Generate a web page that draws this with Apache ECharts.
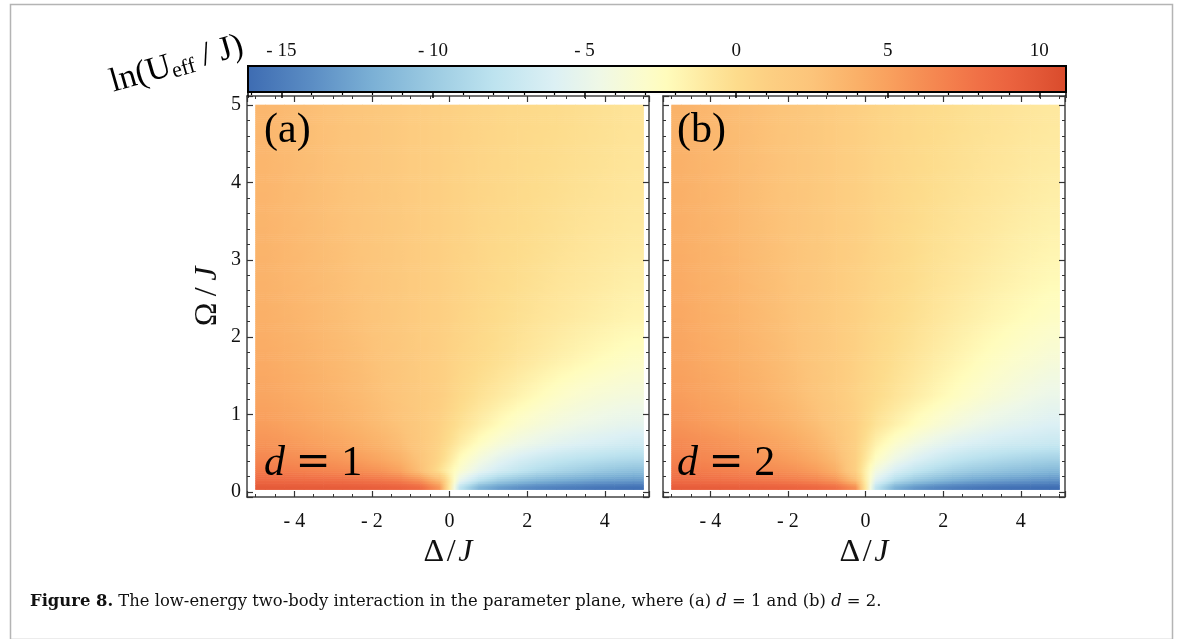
<!DOCTYPE html>
<html>
<head>
<meta charset="utf-8">
<script src="https://cdn.jsdelivr.net/npm/echarts@6/dist/echarts.min.js"></script>
<style>
  html, body { margin: 0; padding: 0; background: #ffffff; }
  #chart { width: 1182px; height: 639px; }
</style>
</head>
<body>
<div id="chart"></div>
<script>
// Sample positions of the (Δ/J, Ω/J) grid (cell centres) and the plotted extent
const deltaSamples = [-4.75, -4.25, -3.75, -3.25, -2.75, -2.25, -1.75, -1.25, -0.75, -0.25, 0.25, 0.75, 1.25, 1.75, 2.25, 2.75, 3.25, 3.75, 4.25, 4.75];
const omegaSamples = [0.065, 0.15, 0.275, 0.425, 0.625, 0.875, 1.25, 1.75, 2.25, 2.75, 3.25, 3.75, 4.25, 4.75];
const deltaExtent = [-5, 5];
const omegaExtent = [0.03, 5];

// ln(U_eff / J), rows from small Ω up to Ω = 5, columns from Δ = -5 to 5 — panel (a), d = 1
const lnUeffD1 = [
  [9.7, 9.65, 9.6, 9.55, 9.5, 9.4, 9.25, 9.0, 8.4, 5.5, -7.5, -11.5, -13.0, -13.8, -14.4, -14.8, -15.1, -15.4, -15.6, -15.8],
  [8.6, 8.5, 8.4, 8.3, 8.2, 8.0, 7.7, 7.2, 6.0, 3.2, -5.0, -8.0, -9.8, -10.8, -11.6, -12.1, -12.5, -12.9, -13.1, -13.3],
  [7.4, 7.2, 6.95, 6.7, 6.45, 6.15, 5.7, 4.8, 2.8, -0.3, -3.2, -5.2, -6.6, -7.6, -8.5, -9.1, -9.6, -10.1, -10.5, -10.8],
  [6.6, 6.35, 6.1, 5.8, 5.5, 5.15, 4.6, 3.8, 2.4, 0.4, -2.3, -4.0, -5.3, -6.3, -7.0, -7.6, -8.0, -8.3, -8.6, -8.8],
  [5.8, 5.55, 5.25, 4.95, 4.6, 4.2, 3.7, 3.0, 2.0, 0.7, -1.1, -2.5, -3.6, -4.4, -5.0, -5.5, -5.9, -6.2, -6.5, -6.8],
  [5.2, 4.95, 4.65, 4.3, 3.95, 3.55, 3.05, 2.5, 1.8, 0.9, -0.3, -1.3, -2.2, -3.0, -3.6, -4.1, -4.5, -4.8, -5.1, -5.3],
  [4.7, 4.45, 4.15, 3.85, 3.5, 3.15, 2.7, 2.25, 1.75, 1.2, 0.3, -0.4, -1.0, -1.6, -2.2, -2.75, -3.2, -3.55, -3.8, -4.0],
  [4.3, 4.05, 3.8, 3.5, 3.2, 2.85, 2.45, 2.05, 1.6, 1.1, 0.6, 0.2, -0.2, -0.6, -1.0, -1.4, -1.75, -2.1, -2.4, -2.7],
  [4.0, 3.75, 3.5, 3.2, 2.9, 2.6, 2.25, 1.9, 1.5, 1.1, 0.7, 0.35, 0.0, -0.3, -0.6, -0.85, -1.1, -1.35, -1.6, -1.8],
  [3.8, 3.55, 3.3, 3.05, 2.8, 2.5, 2.2, 1.85, 1.5, 1.1, 0.75, 0.45, 0.15, -0.1, -0.35, -0.6, -0.8, -1.0, -1.2, -1.4],
  [3.7, 3.45, 3.2, 2.95, 2.7, 2.4, 2.1, 1.8, 1.45, 1.1, 0.8, 0.5, 0.25, 0.05, -0.15, -0.35, -0.55, -0.75, -0.9, -1.05],
  [3.6, 3.35, 3.1, 2.85, 2.6, 2.35, 2.05, 1.75, 1.4, 1.1, 0.8, 0.55, 0.35, 0.15, -0.05, -0.2, -0.4, -0.55, -0.7, -0.85],
  [3.55, 3.3, 3.05, 2.8, 2.55, 2.3, 2.0, 1.7, 1.4, 1.1, 0.8, 0.6, 0.4, 0.2, 0.05, -0.1, -0.25, -0.4, -0.55, -0.7],
  [3.5, 3.25, 3.0, 2.75, 2.5, 2.25, 2.0, 1.7, 1.4, 1.1, 0.85, 0.65, 0.45, 0.3, 0.15, 0.0, -0.15, -0.3, -0.45, -0.6]
];

// Same grid — panel (b), d = 2
const lnUeffD2 = [
  [9.5, 9.45, 9.4, 9.3, 9.2, 9.1, 8.9, 8.6, 8.0, 6.0, -7.5, -11.8, -13.4, -14.3, -14.9, -15.3, -15.6, -15.8, -15.9, -16.0],
  [8.3, 8.2, 8.05, 7.9, 7.7, 7.5, 7.2, 6.7, 5.8, 3.0, -5.5, -8.6, -10.2, -11.2, -12.0, -12.6, -13.0, -13.3, -13.6, -13.8],
  [7.5, 7.3, 7.05, 6.8, 6.5, 6.2, 5.8, 5.2, 4.0, 1.0, -4.0, -6.2, -7.6, -8.6, -9.4, -10.0, -10.4, -10.8, -11.1, -11.4],
  [6.9, 6.65, 6.4, 6.1, 5.8, 5.45, 5.0, 4.3, 3.2, 1.0, -2.6, -4.5, -5.8, -6.8, -7.6, -8.2, -8.6, -9.0, -9.3, -9.5],
  [6.4, 6.15, 5.85, 5.55, 5.2, 4.8, 4.3, 3.6, 2.6, 1.0, -1.5, -3.0, -4.1, -5.0, -5.7, -6.2, -6.6, -6.9, -7.1, -7.3],
  [5.7, 5.4, 5.1, 4.8, 4.45, 4.05, 3.55, 2.9, 2.1, 1.0, -0.5, -1.5, -2.4, -3.2, -3.9, -4.5, -5.0, -5.4, -5.7, -6.0],
  [5.2, 4.9, 4.6, 4.25, 3.9, 3.45, 2.95, 2.35, 1.65, 0.85, 0.1, -0.55, -1.2, -1.8, -2.4, -2.95, -3.5, -3.95, -4.4, -4.8],
  [4.75, 4.45, 4.15, 3.85, 3.5, 3.1, 2.65, 2.15, 1.6, 0.95, 0.35, -0.15, -0.65, -1.15, -1.6, -2.05, -2.5, -2.9, -3.25, -3.6],
  [4.5, 4.2, 3.9, 3.6, 3.25, 2.9, 2.5, 2.05, 1.55, 1.0, 0.5, 0.1, -0.3, -0.7, -1.1, -1.45, -1.8, -2.1, -2.4, -2.7],
  [4.3, 4.0, 3.75, 3.45, 3.1, 2.8, 2.4, 2.0, 1.55, 1.05, 0.6, 0.25, -0.1, -0.45, -0.75, -1.05, -1.35, -1.6, -1.85, -2.1],
  [4.1, 3.85, 3.6, 3.3, 3.0, 2.7, 2.35, 1.95, 1.55, 1.1, 0.7, 0.35, 0.0, -0.3, -0.55, -0.8, -1.05, -1.3, -1.5, -1.7],
  [4.0, 3.75, 3.5, 3.2, 2.9, 2.6, 2.3, 1.9, 1.5, 1.1, 0.7, 0.4, 0.1, -0.15, -0.4, -0.6, -0.8, -1.0, -1.2, -1.4],
  [3.9, 3.65, 3.4, 3.1, 2.85, 2.55, 2.25, 1.9, 1.5, 1.1, 0.7, 0.45, 0.2, -0.05, -0.25, -0.45, -0.65, -0.8, -1.0, -1.15],
  [3.8, 3.55, 3.3, 3.05, 2.8, 2.5, 2.2, 1.85, 1.5, 1.1, 0.75, 0.5, 0.25, 0.05, -0.15, -0.35, -0.5, -0.65, -0.8, -0.95]
];

// Colour bar range and its labelled ticks
const colorbarRange = [-16.1, 10.88];
const colorbarTicks = [-15, -10, -5, 0, 5, 10];

// Colour scale: value anchors and their colours
const cmapValues = [-16.1, -14, -12, -10, -8, -6, -4.5, -3, -2.3, -1, 0, 1, 2.5, 4, 5, 6, 7, 8, 9, 10, 10.9];
const cmapColors = ['#3e6cb2', '#5b8dc4', '#7bb0d5', '#9ccbe2', '#bde3ef', '#dcf0f4', '#eff8e6', '#fcfccb', '#fffcbc',
  '#fee9a0', '#fddc8c', '#fdd083', '#fcc47a', '#fab068', '#f9a15e', '#f69055', '#f4804d', '#f07046', '#eb633f', '#e25736', '#d94b2c'];

const SERIF = '"Liberation Serif", "DejaVu Serif", serif';
const WIDE = '"DejaVu Serif", serif';

function hexToRgb(h) {
  return [parseInt(h.slice(1, 3), 16), parseInt(h.slice(3, 5), 16), parseInt(h.slice(5, 7), 16)];
}
const cmapRgb = cmapColors.map(hexToRgb);

function colorOf(v) {
  const n = cmapValues.length;
  if (v <= cmapValues[0]) return cmapColors[0];
  if (v >= cmapValues[n - 1]) return cmapColors[n - 1];
  let k = 0;
  while (k < n - 2 && v > cmapValues[k + 1]) k++;
  const t = (v - cmapValues[k]) / (cmapValues[k + 1] - cmapValues[k]);
  const a = cmapRgb[k], b = cmapRgb[k + 1];
  return 'rgb(' + a.map((x, i) => Math.round(x + (b[i] - x) * t)).join(',') + ')';
}

// Patches between neighbouring samples; the outer half-cells repeat the edge samples.
function patchesOf(values) {
  const xs = [deltaExtent[0]].concat(deltaSamples, [deltaExtent[1]]);
  const ys = [omegaExtent[0]].concat(omegaSamples, [omegaExtent[1]]);
  const nx = deltaSamples.length, ny = omegaSamples.length;
  const val = (i, j) => values[Math.min(ny - 1, Math.max(0, i - 1))][Math.min(nx - 1, Math.max(0, j - 1))];
  const out = [];
  for (let i = 0; i < ys.length - 1; i++) {
    for (let j = 0; j < xs.length - 1; j++) {
      out.push([xs[j], xs[j + 1], ys[i], ys[i + 1], val(i, j), val(i, j + 1), val(i + 1, j), val(i + 1, j + 1)]);
    }
  }
  return out;
}

// Draws one patch as thin horizontal strips shaded left-to-right
function renderPatch(params, api) {
  const pBL = api.coord([api.value(0), api.value(2)]);
  const pTR = api.coord([api.value(1), api.value(3)]);
  const vbl = api.value(4), vbr = api.value(5), vtl = api.value(6), vtr = api.value(7);
  const left = pBL[0], right = pTR[0], bottom = pBL[1], top = pTR[1];
  const h = bottom - top;
  const n = Math.max(1, Math.ceil(h / 2));
  const children = [];
  for (let k = 0; k < n; k++) {
    const t = (k + 0.5) / n;
    const vl = vbl + (vtl - vbl) * t;
    const vr = vbr + (vtr - vbr) * t;
    const yb = bottom - k * h / n;
    const yt = bottom - (k + 1) * h / n;
    const stops = [0, 0.25, 0.5, 0.75, 1].map(f => ({ offset: f, color: colorOf(vl + (vr - vl) * f) }));
    children.push({
      type: 'rect',
      shape: { x: left - 0.3, y: yt - 0.3, width: right - left + 0.6, height: yb - yt + 0.6 },
      style: { fill: new echarts.graphic.LinearGradient(0, 0, 1, 0, stops) }
    });
  }
  return { type: 'group', children: children };
}

function renderColorbar(params, api) {
  const lo = api.value(0), hi = api.value(1);
  const p0 = api.coord([lo, 0]);
  const p1 = api.coord([hi, 1]);
  const stops = cmapValues.map((v, i) => ({ offset: Math.min(1, Math.max(0, (v - lo) / (hi - lo))), color: cmapColors[i] }));
  const shape = { x: p0[0], y: p1[1], width: p1[0] - p0[0], height: p0[1] - p1[1] };
  return {
    type: 'group',
    children: [
      { type: 'rect', shape: shape, style: { fill: new echarts.graphic.LinearGradient(0, 0, 1, 0, stops) } },
      { type: 'rect', shape: shape, style: { fill: 'none', stroke: '#000', lineWidth: 2 } }
    ]
  };
}

const minus = v => (v < 0 ? '- ' + Math.abs(v) : String(v));

// Panel frames (pixels) and the data extents they span
const panelLeft = [247, 663];
const panelTop = 96, panelW = 402, panelH = 401;
const frameX = [-5.22, 5.14];
const frameY = [-0.065, 5.116];

const frameLine = { show: true, onZero: false, lineStyle: { color: '#444', width: 1.5 } };
const tickIn = { show: true, inside: true, length: 6, lineStyle: { color: '#333', width: 1.2 } };
const minorIn = { show: true, length: 3, lineStyle: { color: '#333', width: 1 } };

const grids = [{ left: 248, top: 66, width: 818, height: 26 }];
const xAxes = [{
  gridIndex: 0, type: 'value', position: 'top', min: colorbarRange[0], max: colorbarRange[1], z: 5,
  axisLine: { show: false },
  axisTick: { show: true, inside: true, length: 6, lineStyle: { color: '#000', width: 1.5 } },
  minorTick: { show: true, splitNumber: 5, length: 3, lineStyle: { color: '#000', width: 1.2 } },
  splitLine: { show: false }, minorSplitLine: { show: false },
  axisLabel: {
    show: true, margin: 5, fontFamily: SERIF, fontSize: 19, color: '#111',
    showMinLabel: false, showMaxLabel: false,
    formatter: v => (colorbarTicks.indexOf(v) >= 0 ? minus(v) : '')
  }
}];
const yAxes = [{ gridIndex: 0, type: 'value', min: 0, max: 1, show: false }];

const nameStyle = {
  fontFamily: SERIF, fontSize: 32, color: '#111',
  rich: { i: { fontFamily: SERIF, fontStyle: 'italic', fontSize: 32, color: '#111' } }
};

panelLeft.forEach((left, p) => {
  const g = p + 1;
  grids.push({ left: left, top: panelTop, width: panelW, height: panelH });
  const base = {
    gridIndex: g, type: 'value', z: 5,
    axisLine: frameLine, axisTick: tickIn, minorTick: Object.assign({ splitNumber: 4 }, minorIn),
    splitLine: { show: false }, minorSplitLine: { show: false }
  };
  xAxes.push(Object.assign({}, base, {
    position: 'bottom', min: frameX[0], max: frameX[1],
    axisLabel: { show: true, margin: 15, fontFamily: SERIF, fontSize: 20, color: '#111', showMinLabel: false, showMaxLabel: false, formatter: minus },
    name: 'Δ\u200a/\u200a{i|J}', nameLocation: 'middle', nameGap: 31, nameTextStyle: nameStyle
  }));
  xAxes.push(Object.assign({}, base, { position: 'top', min: frameX[0], max: frameX[1], axisLabel: { show: false } }));
  const yBase = Object.assign({}, base, { minorTick: Object.assign({ splitNumber: 5 }, minorIn) });
  yAxes.push(Object.assign({}, yBase, {
    position: 'left', min: frameY[0], max: frameY[1],
    axisLabel: { show: p === 0, margin: 6, fontFamily: SERIF, fontSize: 20, color: '#111', showMinLabel: false, showMaxLabel: false },
    name: p === 0 ? 'Ω\u2009/\u2009{i|J}' : '', nameLocation: 'middle', nameGap: 23, nameRotate: 90, nameTextStyle: nameStyle
  }));
  yAxes.push(Object.assign({}, yBase, { position: 'right', min: frameY[0], max: frameY[1], axisLabel: { show: false } }));
});

const chart = echarts.init(document.getElementById('chart'), null, { renderer: 'canvas' });

const panelText = (x, letter, dval) => [
  { type: 'text', left: x, top: 110, z: 20, style: { text: '(' + letter + ')', font: '42px ' + SERIF, fill: '#000' } },
  {
    type: 'text', left: x, top: 443, z: 20,
    style: {
      text: '{i|d} {e|=} ' + dval, font: '42px ' + SERIF, fill: '#000',
      rich: {
        i: { fontFamily: SERIF, fontStyle: 'italic', fontSize: 42, fill: '#000' },
        e: { fontFamily: WIDE, fontSize: 42, fill: '#000' }
      }
    }
  }
];

chart.setOption({
  animation: false,
  backgroundColor: '#ffffff',
  grid: grids,
  xAxis: xAxes,
  yAxis: yAxes,
  series: [
    { type: 'custom', xAxisIndex: 0, yAxisIndex: 0, renderItem: renderColorbar, data: [colorbarRange], encode: { x: [0, 1] }, silent: true },
    { type: 'custom', xAxisIndex: 1, yAxisIndex: 1, renderItem: renderPatch, data: patchesOf(lnUeffD1), encode: { x: [0, 1], y: [2, 3] }, silent: true },
    { type: 'custom', xAxisIndex: 3, yAxisIndex: 3, renderItem: renderPatch, data: patchesOf(lnUeffD2), encode: { x: [0, 1], y: [2, 3] }, silent: true }
  ],
  graphic: [
    { type: 'rect', left: 8, top: 2, z: -1, shape: { width: 1162, height: 635 }, style: { fill: 'none', stroke: '#b4b4b4', lineWidth: 1.5 } },
    {
      type: 'text', left: 106, top: 29, rotation: 0.28, z: 20,
      style: {
        text: 'ln({u|U}{s|eff}{r| / J})', font: '34px ' + SERIF, fill: '#000',
        rich: {
          u: { fontFamily: SERIF, fontSize: 34, fill: '#000' },
          s: { fontFamily: SERIF, fontSize: 22, fill: '#000', padding: [13, 0, 0, 0] },
          r: { fontFamily: SERIF, fontSize: 34, fill: '#000' }
        }
      }
    },
    ...panelText(264, 'a', 1),
    ...panelText(677, 'b', 2),
    {
      type: 'text', left: 30, top: 594, z: 20,
      style: {
        text: '{b|Figure 8.} The low-energy two-body interaction in the parameter plane, where (a) {i|d} = 1 and (b) {i|d} = 2.',
        font: '16.4px ' + WIDE, fill: '#111',
        rich: {
          b: { fontFamily: WIDE, fontWeight: 'bold', fontSize: 16.4, fill: '#111' },
          i: { fontFamily: WIDE, fontStyle: 'italic', fontSize: 16.4, fill: '#111' }
        }
      }
    }
  ]
});
</script>
</body>
</html>
